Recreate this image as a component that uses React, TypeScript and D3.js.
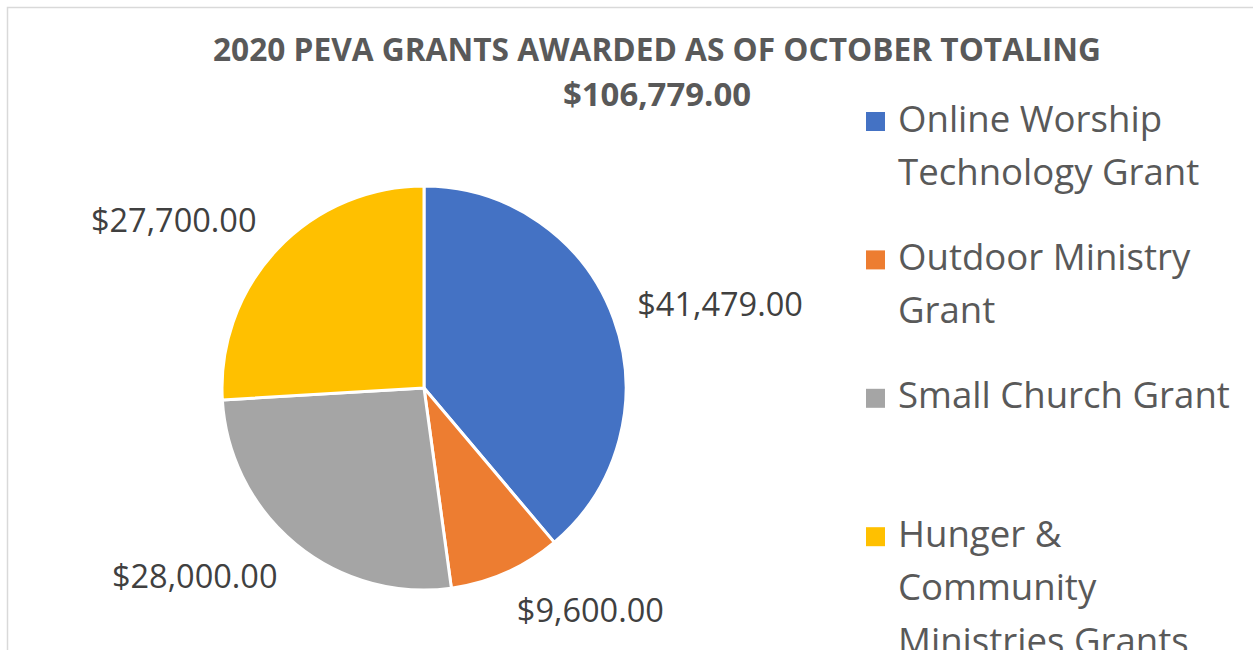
import React from "react";
import * as d3 from "d3";

const categories = [
  "Online Worship Technology Grant",
  "Outdoor Ministry Grant",
  "Small Church Grant",
  "Hunger & Community Ministries Grants",
];
const legendLines = [
  ["Online Worship", "Technology Grant"],
  ["Outdoor Ministry", "Grant"],
  ["Small Church Grant"],
  ["Hunger &", "Community", "Ministries Grants"],
];
const values = [41479, 9600, 28000, 27700];
const colors = ["#4472C4", "#ED7D31", "#A5A5A5", "#FFC000"];
const titleLines = ["2020 PEVA GRANTS AWARDED AS OF OCTOBER TOTALING", "$106,779.00"];
const titleWidths = [888, 188];

const W = 1253;
const H = 650;

export default function App() {
  const cx = 424;
  const cy = 388;
  const r = 202;
  const pie = d3.pie<number>().sort(null).value((d) => d);
  const arcs = pie(values);
  const arc = d3.arc<d3.PieArcDatum<number>>().innerRadius(0).outerRadius(r);
  const fmt = d3.format("$,.2f");
  const font = "'Open Sans', sans-serif";
  const legendX = 866;
  const legendTop = 131.5;
  const entryStep = 138.4;
  const lineStep = 53.4;

  return (
    <svg width={W} height={H} style={{ position: "absolute", left: 0, top: 0, fontFamily: font }}>
      <rect x={0} y={0} width={W} height={H} fill="#fff" />
      <rect x={7.5} y={7.5} width={W + 20} height={H + 20} fill="#fff" stroke="#D9D9D9" strokeWidth={1.5} />
      <g fill="#595959" fontWeight="bold" fontSize={31.5} textAnchor="middle">
        {titleLines.map((t, i) => (
          <text key={i} x={657} y={60.5 + i * 45.5} textLength={titleWidths[i]} lengthAdjust="spacingAndGlyphs">
            {t}
          </text>
        ))}
      </g>
      <g transform={`translate(${cx},${cy})`}>
        {arcs.map((a, i) => (
          <path key={i} d={arc(a) || ""} fill={colors[i]} stroke="#fff" strokeWidth={3} strokeLinejoin="round" />
        ))}
        {arcs.map((a, i) => {
          const mid = (a.startAngle + a.endAngle) / 2;
          const R = r + 24;
          const s = Math.sin(mid);
          const c = Math.cos(mid);
          const px = R * s;
          const py = -R * c;
          return (
            <text
              key={"l" + i}
              x={px + (s >= 0 ? 1 : -3)}
              y={py - c * 18}
              dy="0.35em"
              textAnchor={s >= 0 ? "start" : "end"}
              fontSize={32.5}
              fill="#404040"
            >
              {fmt(values[i])}
            </text>
          );
        })}
      </g>
      <g>
        {categories.map((c, i) => {
          const base = legendTop + i * entryStep;
          return (
            <g key={c}>
              <rect x={legendX} y={base - 19.5} width={19} height={19} fill={colors[i]} />
              {legendLines[i].map((ln, j) => (
                <text key={j} x={legendX + 32} y={base + j * lineStep} fontSize={36.6} fill="#595959">
                  {ln}
                </text>
              ))}
            </g>
          );
        })}
      </g>
    </svg>
  );
}
